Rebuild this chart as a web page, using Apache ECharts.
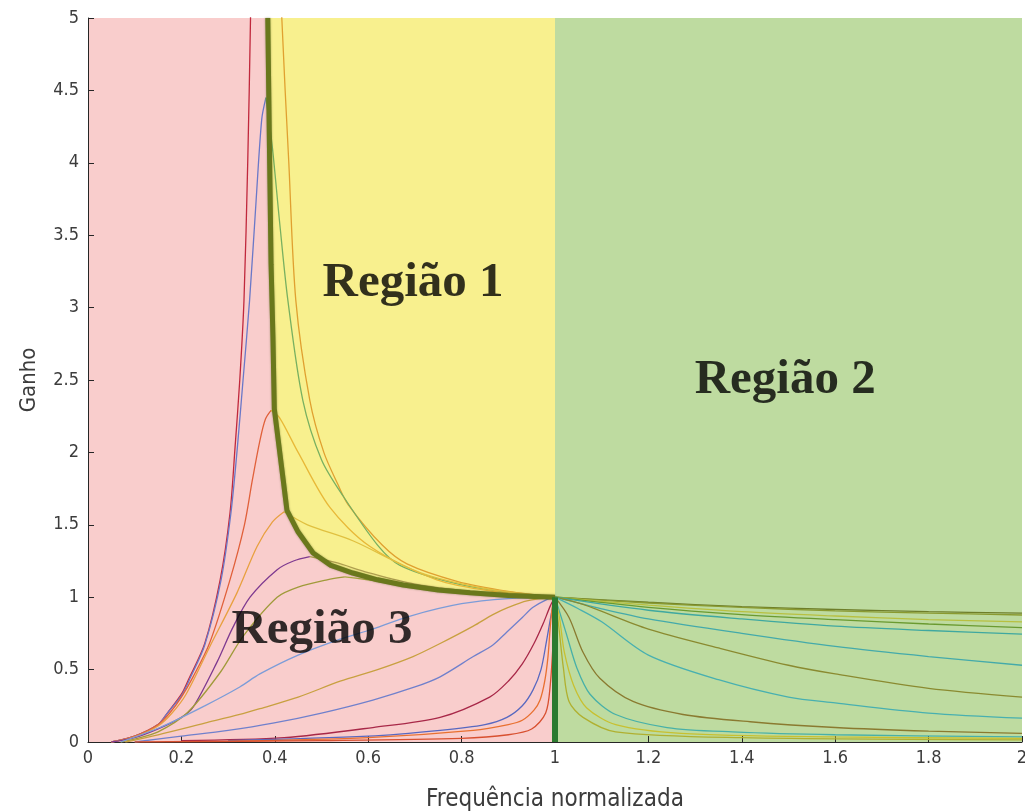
<!DOCTYPE html>
<html>
<head>
<meta charset="utf-8">
<title>Ganho x Frequência normalizada</title>
<script src="https://cdn.jsdelivr.net/npm/echarts@6/dist/echarts.min.js"></script>
<style>
  html, body { margin: 0; padding: 0; background: #ffffff; }
  #chart { width: 1025px; height: 811px; }
</style>
</head>
<body>
<div id="chart"></div>
<script>
// Axis ranges
const freqRange = [0, 2];
const gainRange = [0, 5];
const freqStep = 0.2;
const gainStep = 0.5;

// Operating regions along the frequency axis
const zoneBelowResonance = [0, 1];
const zoneAboveResonance = [1, 2];

// Locus of gain peaks (ZVS/ZCS limit) and the drop at fn = 1
const peakLocus = [
  [0.385, 5.0], [0.389, 4.0], [0.392, 3.3], [0.396, 2.8], [0.399, 2.3],
  [0.418, 1.81], [0.426, 1.60], [0.45, 1.45], [0.482, 1.305], [0.52, 1.22],
  [0.567, 1.167], [0.62, 1.12], [0.675, 1.084], [0.75, 1.05], [0.818, 1.03],
  [0.9, 1.012], [1.0, 1.0]
];
const resonanceDrop = [[1.0, 1.0], [1.0, 0.0]];

// Gain curves below the peak (rising side), lowest Q first
const rise1 = [[0.05, 0.0], [0.1, 0.04], [0.15, 0.12], [0.17, 0.2], [0.2, 0.33], [0.215, 0.43], [0.25, 0.68], [0.283, 1.12], [0.304, 1.58], [0.315, 2.04], [0.325, 2.5], [0.334, 3.05], [0.342, 4.0], [0.348, 5.0], [0.352, 6.0]];
const rise2 = [[0.05, 0.0], [0.1, 0.04], [0.15, 0.12], [0.17, 0.2], [0.2, 0.32], [0.22, 0.45], [0.25, 0.67], [0.285, 1.12], [0.306, 1.58], [0.32, 2.04], [0.332, 2.5], [0.346, 3.05], [0.36, 3.74], [0.372, 4.3], [0.381, 4.45]];
const rise3 = [[0.05, 0.0], [0.1, 0.04], [0.15, 0.12], [0.175, 0.2], [0.2, 0.31], [0.225, 0.45], [0.26, 0.68], [0.304, 1.12], [0.335, 1.5], [0.352, 1.81], [0.368, 2.08], [0.38, 2.23], [0.392, 2.29]];
const rise4 = [[0.05, 0.0], [0.1, 0.035], [0.15, 0.11], [0.18, 0.2], [0.21, 0.33], [0.261, 0.66], [0.319, 1.03], [0.362, 1.35], [0.395, 1.52], [0.42, 1.59]];
const rise5 = [[0.05, 0.0], [0.1, 0.03], [0.15, 0.09], [0.2, 0.17], [0.225, 0.24], [0.276, 0.55], [0.31, 0.79], [0.347, 1.0], [0.405, 1.19], [0.44, 1.25], [0.475, 1.28]];
const rise6 = [[0.07, 0.0], [0.1, 0.02], [0.15, 0.07], [0.212, 0.2], [0.283, 0.48], [0.332, 0.73], [0.405, 1.0], [0.45, 1.07], [0.512, 1.12], [0.55, 1.14]];
const rise7 = [[0.07, 0.0], [0.154, 0.1], [0.25, 0.25], [0.325, 0.38], [0.368, 0.47], [0.45, 0.6], [0.54, 0.71], [0.6, 0.77], [0.69, 0.87], [0.8, 0.955], [0.9, 0.99], [1.0, 1.0]];
const rise8 = [[0.08, 0.0], [0.15, 0.05], [0.25, 0.13], [0.325, 0.19], [0.368, 0.23], [0.45, 0.31], [0.54, 0.42], [0.62, 0.5], [0.696, 0.59], [0.754, 0.68], [0.825, 0.8], [0.867, 0.88], [0.9, 0.93], [0.94, 0.975], [1.0, 1.0]];
const rise9 = [[0.1, 0.0], [0.2, 0.04], [0.3, 0.08], [0.396, 0.13], [0.5, 0.2], [0.61, 0.29], [0.7, 0.38], [0.754, 0.45], [0.825, 0.59], [0.867, 0.67], [0.897, 0.76], [0.93, 0.86], [0.953, 0.93], [0.98, 0.98], [1.0, 1.0]];
const rise10 = [[0.2, 0.01], [0.42, 0.03], [0.61, 0.1], [0.754, 0.17], [0.86, 0.31], [0.9, 0.42], [0.93, 0.54], [0.955, 0.68], [0.975, 0.82], [0.99, 0.94], [1.0, 1.0]];
const rise11 = [[0.3, 0.01], [0.6, 0.04], [0.754, 0.08], [0.85, 0.12], [0.897, 0.17], [0.93, 0.25], [0.953, 0.36], [0.97, 0.5], [0.982, 0.7], [0.993, 0.9], [1.0, 1.0]];
const rise12 = [[0.3, 0.005], [0.6, 0.03], [0.825, 0.08], [0.9, 0.12], [0.93, 0.15], [0.955, 0.22], [0.968, 0.29], [0.978, 0.42], [0.985, 0.59], [0.99, 0.8], [0.995, 0.95], [1.0, 1.0]];
const rise13 = [[0.1, 0.0], [0.5, 0.01], [0.8, 0.025], [0.9, 0.05], [0.95, 0.09], [0.98, 0.2], [0.99, 0.4], [0.997, 0.75], [1.0, 1.0]];

// Gain curves past the peak, inside Região 1
const fall1 = [[0.405, 6.0], [0.415, 5.0], [0.43, 4.0], [0.445, 3.05], [0.475, 2.36], [0.505, 2.0], [0.535, 1.78], [0.557, 1.64], [0.63, 1.36], [0.683, 1.23], [0.79, 1.11], [0.9, 1.04], [1.0, 1.0]];
const fall2 = [[0.381, 4.45], [0.395, 4.1], [0.41, 3.6], [0.428, 3.05], [0.46, 2.36], [0.5, 1.95], [0.546, 1.7], [0.62, 1.36], [0.668, 1.22], [0.78, 1.1], [0.9, 1.03], [1.0, 1.0]];
const fall3 = [[0.392, 2.29], [0.41, 2.24], [0.45, 2.0], [0.518, 1.62], [0.604, 1.35], [0.747, 1.12], [0.87, 1.04], [1.0, 1.0]];
const fall4 = [[0.42, 1.59], [0.47, 1.5], [0.567, 1.39], [0.711, 1.17], [0.85, 1.06], [1.0, 1.0]];
const fall5 = [[0.475, 1.28], [0.53, 1.24], [0.6, 1.17], [0.7, 1.09], [0.85, 1.03], [1.0, 1.0]];
const fall6 = [[0.55, 1.14], [0.62, 1.11], [0.7, 1.065], [0.8, 1.03], [0.9, 1.01], [1.0, 1.0]];

// Gain curves above resonance (Região 2)
const high1 = [[1.0, 1.0], [1.2, 0.965], [1.4, 0.935], [1.6, 0.915], [1.8, 0.9], [2.0, 0.89]];
const high2 = [[1.0, 1.0], [1.2, 0.96], [1.4, 0.93], [1.6, 0.905], [1.8, 0.89], [2.0, 0.877]];
const high3 = [[1.0, 1.0], [1.2, 0.945], [1.4, 0.9], [1.6, 0.87], [1.8, 0.845], [2.0, 0.83]];
const high4 = [[1.0, 1.0], [1.2, 0.93], [1.4, 0.88], [1.6, 0.845], [1.8, 0.815], [2.0, 0.79]];
const high5 = [[1.0, 1.0], [1.2, 0.91], [1.4, 0.85], [1.6, 0.8], [1.8, 0.77], [2.0, 0.745]];
const high6 = [[1.0, 1.0], [1.1, 0.92], [1.2, 0.85], [1.4, 0.75], [1.6, 0.66], [1.8, 0.59], [2.0, 0.53]];
const high7 = [[1.0, 1.0], [1.06, 0.95], [1.2, 0.78], [1.35, 0.65], [1.5, 0.53], [1.6, 0.47], [1.8, 0.37], [2.0, 0.31]];
const high8 = [[1.0, 1.0], [1.05, 0.92], [1.1, 0.83], [1.2, 0.6], [1.35, 0.43], [1.5, 0.31], [1.6, 0.27], [1.8, 0.2], [2.0, 0.165]];
const high9 = [[1.0, 1.0], [1.03, 0.86], [1.06, 0.62], [1.096, 0.44], [1.167, 0.28], [1.274, 0.19], [1.418, 0.14], [1.6, 0.1], [1.8, 0.075], [2.0, 0.06]];
const high10 = [[1.0, 1.0], [1.025, 0.74], [1.047, 0.51], [1.075, 0.33], [1.13, 0.19], [1.24, 0.1], [1.38, 0.07], [1.6, 0.05], [2.0, 0.035]];
const high11 = [[1.0, 1.0], [1.01, 0.85], [1.02, 0.62], [1.04, 0.39], [1.068, 0.235], [1.13, 0.12], [1.27, 0.06], [1.6, 0.035], [2.0, 0.025]];
const high12 = [[1.0, 1.0], [1.008, 0.8], [1.018, 0.51], [1.03, 0.28], [1.06, 0.17], [1.13, 0.07], [1.4, 0.03], [2.0, 0.015]];

// Region captions and where they sit (data coordinates)
const regionNames = ['Região 1', 'Região 2', 'Região 3'];
const regionAnchors = [[0.696, 3.17], [1.493, 2.5], [0.501, 0.773]];

const riseCurves = [rise1, rise2, rise3, rise4, rise5, rise6, rise7, rise8, rise9, rise10, rise11, rise12, rise13];
const fallCurves = [fall1, fall2, fall3, fall4, fall5, fall6];
const highCurves = [high1, high2, high3, high4, high5, high6, high7, high8, high9, high10, high11, high12];

const riseColors = ['#C0283C', '#6A78C8', '#E0603A', '#E8A040', '#7E3A90', '#A09A3A', '#7C9CD8', '#C8A040', '#7080CC', '#A82848', '#5868C0', '#E87030', '#D85030'];
const fallColors = ['#E0A030', '#78B060', '#E8B838', '#E0C040', '#B0A050', '#A8A840'];
const highColors = ['#6E7E2A', '#8A9A30', '#B8C040', '#6A9A30', '#3FA8A0', '#44AAAA', '#8A8A30', '#48B0B0', '#8A7A30', '#48B0A8', '#C8C030', '#B0B030'];

const PINK = '#F9CDCC';
const YELLOW = '#F8F08E';
const GREEN = '#BEDBA0';
const AXIS_FONT = '"Liberation Sans Narrow", "Arial Narrow", "DejaVu Sans Condensed", "Liberation Sans", sans-serif';

function thinLine(data, color) {
  return {
    type: 'line',
    data: data,
    showSymbol: false,
    symbol: 'none',
    smooth: 0.3,
    silent: true,
    z: 3,
    lineStyle: { color: color, width: 1.3 }
  };
}

const series = [];

// Background zones
series.push({
  type: 'line',
  data: [],
  silent: true,
  z: 0,
  markArea: {
    silent: true,
    z: 0,
    data: [
      [{ xAxis: zoneBelowResonance[0], yAxis: gainRange[0], itemStyle: { color: PINK } },
       { xAxis: zoneBelowResonance[1], yAxis: gainRange[1] }],
      [{ xAxis: zoneAboveResonance[0], yAxis: gainRange[0], itemStyle: { color: GREEN } },
       { xAxis: zoneAboveResonance[1], yAxis: gainRange[1] }]
    ]
  }
});

// Região 1: filled from the peak locus up to the top of the axis
series.push({
  type: 'line',
  data: peakLocus,
  showSymbol: false,
  symbol: 'none',
  silent: true,
  z: 1,
  lineStyle: { width: 0, opacity: 0 },
  areaStyle: { origin: 'end', color: YELLOW, opacity: 1 }
});

riseCurves.forEach((c, i) => series.push(thinLine(c, riseColors[i])));
fallCurves.forEach((c, i) => series.push(thinLine(c, fallColors[i])));
highCurves.forEach((c, i) => series.push(thinLine(c, highColors[i])));

// Peak locus drawn as a heavy border
series.push({
  type: 'line',
  data: peakLocus,
  showSymbol: false,
  symbol: 'none',
  silent: true,
  z: 5,
  lineStyle: { color: '#6A781C', width: 5, shadowColor: 'rgba(60,70,10,0.5)', shadowBlur: 2 }
});
series.push({
  type: 'line',
  data: resonanceDrop,
  showSymbol: false,
  symbol: 'none',
  silent: true,
  z: 5,
  lineStyle: { color: '#2C7A30', width: 6 }
});

// Region captions
series.push({
  type: 'scatter',
  data: regionAnchors.map((p, i) => ({ value: p, name: regionNames[i] })),
  symbolSize: 0,
  silent: true,
  z: 10,
  label: {
    show: true,
    position: 'inside',
    formatter: '{b}',
    fontFamily: '"Liberation Serif", "Times New Roman", serif',
    fontWeight: 'bold',
    fontSize: 49,
    color: '#000000'
  }
});

const axisText = { color: '#3C3C3C', fontSize: 18, fontFamily: AXIS_FONT };
const nameText = { color: '#3C3C3C', fontSize: 24, fontFamily: AXIS_FONT };

const option = {
  animation: false,
  backgroundColor: '#ffffff',
  grid: { left: 88, right: 3, top: 18, bottom: 69, containLabel: false, outerBoundsMode: 'none' },
  xAxis: {
    type: 'value',
    min: freqRange[0],
    max: freqRange[1],
    interval: freqStep,
    name: 'Frequência normalizada',
    nameLocation: 'middle',
    nameGap: 46,
    nameTextStyle: nameText,
    axisLine: { show: true, onZero: false, lineStyle: { color: '#262626', width: 1 } },
    axisTick: { show: true, inside: true, length: 6, lineStyle: { color: '#262626' } },
    axisLabel: Object.assign({ margin: 7 }, axisText),
    splitLine: { show: false }
  },
  yAxis: {
    type: 'value',
    min: gainRange[0],
    max: gainRange[1],
    interval: gainStep,
    name: 'Ganho',
    nameLocation: 'middle',
    nameRotate: 90,
    nameGap: 48,
    nameTextStyle: Object.assign({}, nameText, { fontSize: 22 }),
    axisLine: { show: true, onZero: false, lineStyle: { color: '#262626', width: 1 } },
    axisTick: { show: true, inside: true, length: 6, lineStyle: { color: '#262626' } },
    axisLabel: Object.assign({ margin: 9 }, axisText),
    splitLine: { show: false }
  },
  series: series
};

const chart = echarts.init(document.getElementById('chart'), null, { renderer: 'canvas' });
chart.setOption(option);
</script>
</body>
</html>
